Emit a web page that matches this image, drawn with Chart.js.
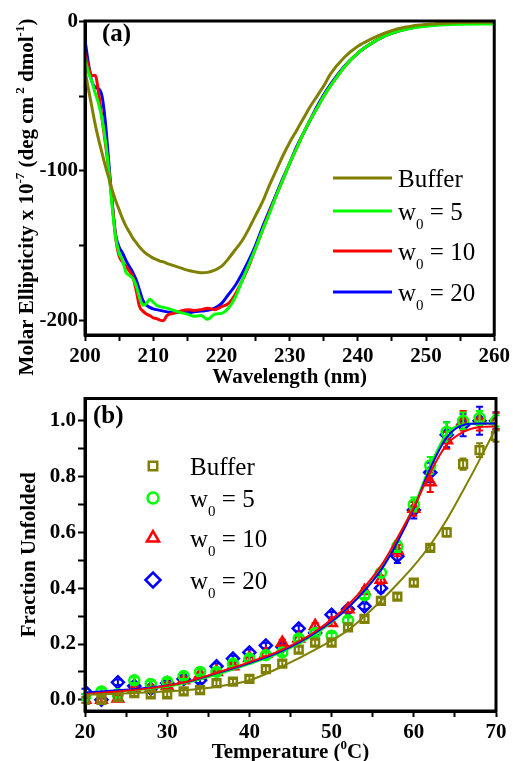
<!DOCTYPE html>
<html><head><meta charset="utf-8">
<script src="https://cdn.jsdelivr.net/npm/chart.js@4.4.0/dist/chart.umd.min.js"></script>
<style>
html,body{margin:0;padding:0;background:#fff;width:513px;height:761px;overflow:hidden}
canvas{position:absolute;left:0}
#ca{top:0}
#cb{top:390px}
</style></head><body>
<canvas id="ca" width="513" height="390"></canvas>
<canvas id="cb" width="513" height="371"></canvas>
<script>
// ---------- Panel (a): CD spectra ----------
const wavelengths = [200,200.5,201,201.5,202,202.5,203,203.5,204,204.5,205,205.5,206,206.5,207,207.5,208,208.5,209,209.5,210,210.5,211,211.5,212,213,214,215,216,217,218,219,220,221,222,223,224,225,226,227,228,229,230,231,232,233,234,235,236,238,240,242,244,246,248,250,252,255,258,260];
const cdBuffer = [-33,-45,-57,-69,-79,-88,-97,-105,-113,-120,-126,-132,-137,-141,-145,-148,-151,-153.5,-155.5,-157,-158.5,-159.5,-160.5,-161,-162,-163.5,-165,-166.5,-167.5,-168.3,-168,-166.5,-164,-159,-153,-147,-139,-130,-121,-110,-100,-90,-81,-73,-65,-57,-50,-43,-35,-24,-16.5,-11.5,-7.5,-4.5,-2.8,-1.8,-1.1,-0.5,-0.3,-0.3];
const cdW5 = [-25,-34,-40,-48,-55,-65,-80,-100,-125,-145,-155,-160,-168,-170,-172,-177,-185,-190,-189,-186,-188,-190,-191,-191.5,-192,-193.5,-195,-196,-197.5,-197,-199.5,-196,-195.5,-192,-185,-174,-163,-152,-140,-129,-117,-106,-95,-85,-75,-66,-58,-50,-43,-30.5,-21,-14.5,-9.5,-6.3,-4.2,-3,-2.2,-1.6,-1.5,-1.5];
const cdW10 = [-21,-30,-36,-36,-48,-65,-82,-100,-122,-145,-157,-161,-164,-167,-171,-180,-191,-194,-196,-197,-198.5,-199,-200,-200.5,-197,-195.5,-194,-193,-193.5,-193,-192,-193,-191,-189,-183,-174,-164,-152,-140,-128,-117,-106,-95,-85,-75,-66,-58,-50,-43,-30.5,-21,-14.5,-9.3,-6,-3.8,-2.4,-1.5,-0.8,-0.5,-0.5];
const cdW20 = [-12,-28,-40,-44,-45,-50,-68,-95,-122,-143,-151,-155,-160,-164,-168,-173,-180,-187,-190,-191.5,-192.5,-193,-193.5,-194,-194.5,-195,-195,-195,-194.5,-194,-193.5,-192,-189,-183,-177,-169,-160,-150,-138,-127,-116,-105,-95,-84,-75,-66,-57,-49,-42,-30,-21,-14.5,-9.5,-6.2,-4,-2.7,-1.8,-1,-0.7,-0.6];
const wavelengthTicks = [200,205,210,215,220,225,230,235,240,245,250,255,260];
const ellipticityTicks = [-200,-150,-100,-50,0];

// ---------- Panel (b): thermal unfolding ----------
const temps = [20,22,24,26,28,30,32,34,36,38,40,42,44,46,48,50,52,54,56,58,60,62,64,66,68,70];
const fracBuffer = [0.0,0.0,0.01,0.024,0.02,0.02,0.03,0.035,0.06,0.065,0.075,0.11,0.13,0.18,0.205,0.205,0.26,0.29,0.355,0.37,0.42,0.545,0.60,0.845,0.895,0.945];
const fracW5 = [0.01,0.03,0.02,0.07,0.057,0.065,0.085,0.10,0.10,0.13,0.148,0.16,0.17,0.22,0.24,0.23,0.285,0.375,0.455,0.55,0.70,0.84,0.96,1.0,1.01,1.0];
const fracW10 = [0.0,0.0,0.005,0.04,0.04,0.05,0.07,0.09,0.10,0.12,0.15,0.165,0.205,0.22,0.265,0.275,0.325,0.39,0.43,0.535,0.685,0.78,0.93,1.0,1.0,1.0];
const fracW20 = [0.03,0.0,0.063,0.05,0.04,0.06,0.075,0.07,0.12,0.148,0.17,0.195,0.19,0.256,0.24,0.305,0.325,0.335,0.40,0.515,0.68,0.815,0.95,0.985,1.0,1.0];
const errBuffer = [0.01,0.01,0.01,0.01,0.01,0.01,0.01,0.01,0.01,0.01,0.01,0.01,0.01,0.01,0.01,0.01,0.01,0.01,0.01,0.01,0.01,0.01,0.015,0.02,0.025,0.02];
const errW5 = [0.01,0.01,0.01,0.01,0.01,0.01,0.01,0.01,0.01,0.01,0.01,0.01,0.01,0.01,0.01,0.01,0.01,0.01,0.015,0.02,0.025,0.03,0.035,0.03,0.025,0.02];
const errW10 = [0.01,0.01,0.01,0.01,0.01,0.01,0.01,0.01,0.01,0.01,0.01,0.01,0.01,0.01,0.01,0.01,0.01,0.01,0.015,0.02,0.025,0.035,0.03,0.035,0.035,0.03];
const errW20 = [0.01,0.01,0.01,0.01,0.01,0.01,0.01,0.01,0.01,0.01,0.01,0.01,0.01,0.01,0.01,0.01,0.01,0.01,0.015,0.025,0.03,0.035,0.045,0.04,0.05,0.03];
const fitTemps = [20,24,28,32,36,40,44,48,52,56,58,60,62,64,66,68,70];
const fitBuffer = [0.018,0.022,0.027,0.034,0.047,0.07,0.12,0.18,0.25,0.355,0.415,0.48,0.555,0.645,0.75,0.86,0.975];
const fitW5 = [0.022,0.03,0.04,0.058,0.09,0.128,0.172,0.235,0.33,0.47,0.575,0.695,0.84,0.955,0.986,0.99,0.99];
const fitW10 = [0.02,0.03,0.042,0.062,0.097,0.135,0.18,0.245,0.34,0.48,0.58,0.69,0.815,0.915,0.96,0.978,0.98];
const fitW20 = [0.026,0.034,0.044,0.062,0.095,0.132,0.176,0.24,0.33,0.465,0.565,0.685,0.83,0.94,0.985,0.99,0.99];
const tempTicks = [20,25,30,35,40,45,50,55,60,65,70];
const fracTicks = [0,0.1,0.2,0.3,0.4,0.5,0.6,0.7,0.8,0.9,1.0];

const SERIF = '"Liberation Serif","Times New Roman",serif';
const OLIVE = '#808000', GREEN = '#00ff00', RED = '#ff0000', BLUE = '#0000ff';
function xy(xs, ys) { return xs.map((x, i) => ({ x: x, y: ys[i] })); }

function richText(ctx, parts, x, y, align) {
  let total = 0;
  const ws = parts.map(p => {
    ctx.font = (p[3] || 'bold') + ' ' + p[1] + 'px ' + SERIF;
    const w = ctx.measureText(p[0]).width; total += w; return w;
  });
  let cx = align === 'center' ? x - total / 2 : x;
  ctx.textAlign = 'left'; ctx.textBaseline = 'alphabetic';
  parts.forEach((p, i) => {
    ctx.font = (p[3] || 'bold') + ' ' + p[1] + 'px ' + SERIF;
    ctx.fillText(p[0], cx, y + (p[2] || 0));
    cx += ws[i];
  });
}

function wLabel(n) {
  return [['w', 25, 0, 'normal'], ['0', 15, 9, 'normal'], [' = ' + n, 25, 0, 'normal']];
}

function axisFont() { return { family: SERIF, size: 21, weight: 'bold' }; }
function noPadY(s, w) { s.width = w; s.paddingTop = 0; s.paddingBottom = 0; }

function frame(chart) {
  const ctx = chart.ctx, a = chart.chartArea;
  ctx.save();
  ctx.strokeStyle = '#000'; ctx.lineWidth = 3;
  ctx.strokeRect(a.left, a.top, a.right - a.left, a.bottom - a.top);
  ctx.restore();
}

// ---------- Chart (a) ----------
const legendA = [['Buffer', OLIVE], ['5', GREEN], ['10', RED], ['20', BLUE]];
const pluginA = {
  id: 'decorA',
  afterDraw(chart) {
    frame(chart);
    const ctx = chart.ctx;
    ctx.save();
    ctx.fillStyle = '#000';
    richText(ctx, [['(a)', 25]], 102, 41, 'left');
    richText(ctx, [['Wavelength (nm)', 21]], (chart.chartArea.left + chart.chartArea.right) / 2, 383, 'center');
    ctx.save();
    ctx.translate(33, 197);
    ctx.rotate(-Math.PI / 2);
    richText(ctx, [['Molar Ellipticity x 10', 21], ['-7', 13, -9], [' (deg cm', 21], [' 2', 13, -9], [' dmol', 21], ['-1', 13, -9], [')', 21]], 0, 0, 'center');
    ctx.restore();
    const rows = [178, 211, 251, 292];
    legendA.forEach((r, i) => {
      ctx.strokeStyle = r[1]; ctx.lineWidth = 3;
      ctx.beginPath(); ctx.moveTo(333, rows[i]); ctx.lineTo(392, rows[i]); ctx.stroke();
      ctx.fillStyle = '#000';
      if (i === 0) richText(ctx, [['Buffer', 25, 0, 'normal']], 398, rows[i] + 9, 'left');
      else richText(ctx, wLabel(r[0]), 398, rows[i] + 9, 'left');
    });
    ctx.restore();
  }
};

function lineDS(label, xs, ys, color, width) {
  return { label: label, data: xy(xs, ys), borderColor: color, backgroundColor: color, borderWidth: width,
    pointRadius: 0, cubicInterpolationMode: 'monotone', fill: false };
}

new Chart(document.getElementById('ca'), {
  type: 'line',
  data: { datasets: [
    lineDS('Buffer', wavelengths, cdBuffer, OLIVE, 3),
    lineDS('w0 = 5', wavelengths, cdW5, GREEN, 3),
    lineDS('w0 = 10', wavelengths, cdW10, RED, 3),
    lineDS('w0 = 20', wavelengths, cdW20, BLUE, 3)
  ] },
  options: {
    responsive: false, animation: false, devicePixelRatio: 1,
    layout: { padding: { left: 0, right: 16, top: 21, bottom: 0 } },
    plugins: { legend: { display: false }, tooltip: { enabled: false } },
    scales: {
      x: {
        type: 'linear', min: 200, max: 260,
        afterBuildTicks: s => { s.ticks = wavelengthTicks.map(v => ({ value: v })); },
        ticks: { callback: v => (v % 10 === 0 ? String(v) : ''), font: axisFont(), color: '#000', padding: 3, maxRotation: 0, autoSkip: false },
        grid: { drawOnChartArea: false, drawTicks: true, tickLength: 6, tickWidth: 2, tickColor: '#000' },
        border: { display: true, color: '#000', width: 3 },
        afterFit: s => { s.height = 55; }
      },
      y: {
        type: 'linear', min: -210, max: 0.5,
        afterBuildTicks: s => { s.ticks = ellipticityTicks.map(v => ({ value: v })); },
        ticks: { callback: v => (v % 100 === 0 ? String(v) : ''), font: axisFont(), color: '#000', padding: 1, autoSkip: false },
        grid: { drawOnChartArea: false, drawTicks: true, tickLength: 6, tickWidth: 2, tickColor: '#000' },
        border: { display: true, color: '#000', width: 3 },
        afterFit: s => noPadY(s, 85)
      }
    }
  },
  plugins: [pluginA]
});

// ---------- Chart (b) ----------
const legendB = [['Buffer', OLIVE, 'rect', 6], ['5', GREEN, 'circle', 5.5], ['10', RED, 'triangle', 7], ['20', BLUE, 'rectRot', 7.5]];
const pluginB = {
  id: 'decorB',
  beforeDatasetDraw(chart, args) {
    const ds = chart.data.datasets[args.index];
    if (!ds.errors) return;
    const ctx = chart.ctx, ys = chart.scales.y, xs = chart.scales.x;
    ctx.save();
    ctx.strokeStyle = ds.borderColor; ctx.lineWidth = 2;
    ds.data.forEach((p, i) => {
      const e = ds.errors[i];
      const px = xs.getPixelForValue(p.x);
      const y1 = ys.getPixelForValue(p.y - e), y2 = ys.getPixelForValue(p.y + e);
      ctx.beginPath();
      ctx.moveTo(px, y1); ctx.lineTo(px, y2);
      ctx.moveTo(px - 3.5, y1); ctx.lineTo(px + 3.5, y1);
      ctx.moveTo(px - 3.5, y2); ctx.lineTo(px + 3.5, y2);
      ctx.stroke();
    });
    ctx.restore();
  },
  afterDraw(chart) {
    frame(chart);
    const ctx = chart.ctx, a = chart.chartArea;
    ctx.save();
    ctx.fillStyle = '#000';
    richText(ctx, [['(b)', 25]], 93, 33, 'left');
    richText(ctx, [['Temperature (', 21], ['0', 13, -9], ['C)', 21]], (a.left + a.right) / 2, 368, 'center');
    ctx.save();
    ctx.translate(35, (a.top + a.bottom) / 2);
    ctx.rotate(-Math.PI / 2);
    richText(ctx, [['Fraction Unfolded', 21]], 0, 0, 'center');
    ctx.restore();
    const rows = [76, 108, 148, 190];
    legendB.forEach((r, i) => {
      ctx.save();
      ctx.strokeStyle = r[1]; ctx.fillStyle = 'rgba(0,0,0,0)'; ctx.lineWidth = 2.5;
      Chart.helpers.drawPoint(ctx, { pointStyle: r[2], radius: r[3], rotation: 0, borderWidth: 2.5 }, 153, rows[i]);
      ctx.restore();
      ctx.fillStyle = '#000';
      if (i === 0) richText(ctx, [['Buffer', 25, 0, 'normal']], 190, rows[i] + 8.5, 'left');
      else richText(ctx, wLabel(r[0]), 190, rows[i] + 8.5, 'left');
    });
    ctx.restore();
  }
};

function markDS(label, ys, errs, color, style, radius) {
  return { label: label, data: xy(temps, ys), errors: errs, showLine: false, borderColor: color,
    backgroundColor: 'rgba(0,0,0,0)', pointStyle: style, pointRadius: radius, pointBorderWidth: 2.5 };
}

new Chart(document.getElementById('cb'), {
  type: 'line',
  data: { datasets: [
    lineDS('Buffer fit', fitTemps, fitBuffer, OLIVE, 2),
    lineDS('w0 = 10 fit', fitTemps, fitW10, RED, 2),
    lineDS('w0 = 20 fit', fitTemps, fitW20, BLUE, 2),
    lineDS('w0 = 5 fit', fitTemps, fitW5, GREEN, 2),
    markDS('Buffer', fracBuffer, errBuffer, OLIVE, 'rect', 5.5),
    markDS('w0 = 5', fracW5, errW5, GREEN, 'circle', 5),
    markDS('w0 = 10', fracW10, errW10, RED, 'triangle', 6),
    markDS('w0 = 20', fracW20, errW20, BLUE, 'rectRot', 6)
  ] },
  options: {
    responsive: false, animation: false, devicePixelRatio: 1,
    layout: { padding: { left: 0, right: 17, top: 5, bottom: 0 } },
    plugins: { legend: { display: false }, tooltip: { enabled: false } },
    scales: {
      x: {
        type: 'linear', min: 20, max: 70,
        afterBuildTicks: s => { s.ticks = tempTicks.map(v => ({ value: v })); },
        ticks: { callback: v => (v % 10 === 0 ? String(v) : ''), font: axisFont(), color: '#000', padding: 3, maxRotation: 0, autoSkip: false },
        grid: { drawOnChartArea: false, drawTicks: true, tickLength: 6, tickWidth: 2, tickColor: '#000' },
        border: { display: true, color: '#000', width: 3 },
        afterFit: s => { s.height = 50; }
      },
      y: {
        type: 'linear', min: -0.04, max: 1.08,
        afterBuildTicks: s => { s.ticks = fracTicks.map(v => ({ value: v })); },
        ticks: { callback: v => (Math.round(v * 10) % 2 === 0 ? v.toFixed(1) : ''), font: axisFont(), color: '#000', padding: 2, autoSkip: false },
        grid: { drawOnChartArea: false, drawTicks: true, tickLength: 7, tickWidth: 2, tickColor: '#000' },
        border: { display: true, color: '#000', width: 3 },
        afterFit: s => noPadY(s, 85)
      }
    }
  },
  plugins: [pluginB]
});
</script>
</body></html>
